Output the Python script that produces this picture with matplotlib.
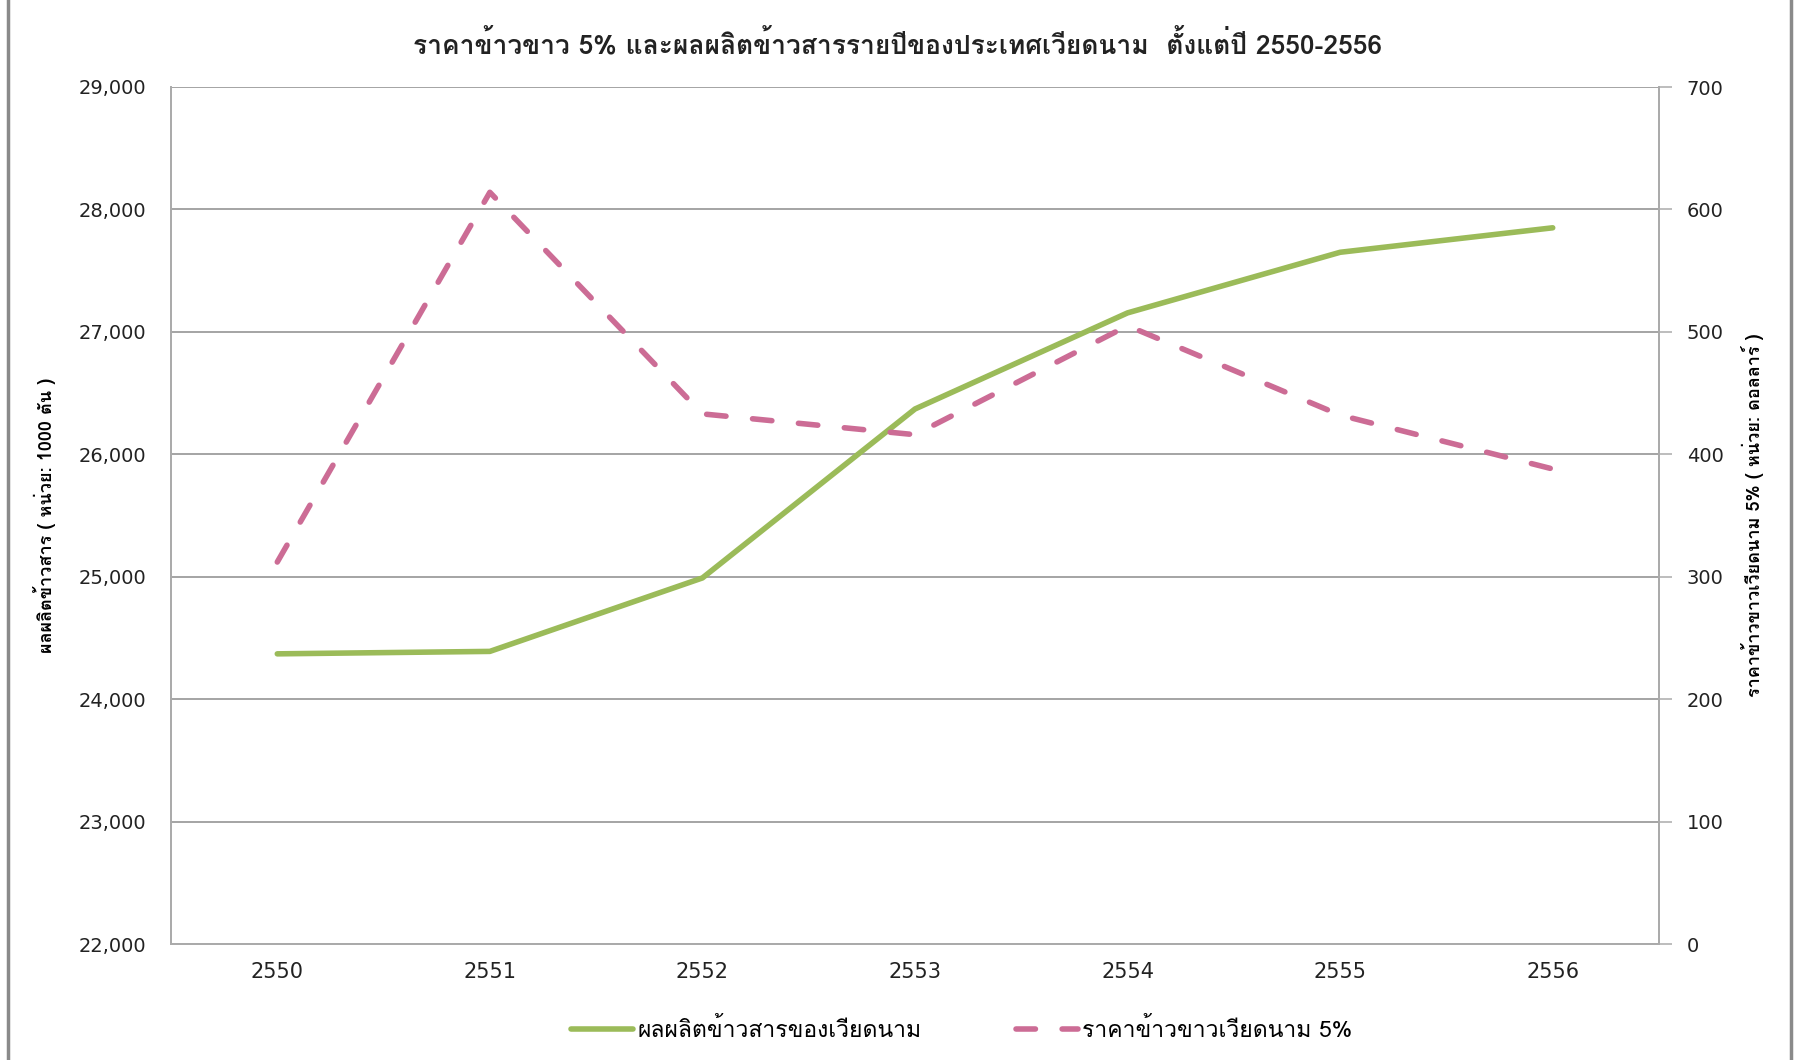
import matplotlib
matplotlib.use("Agg")
import matplotlib.pyplot as plt
from matplotlib import font_manager
from matplotlib.ft2font import FT2Font
from matplotlib.lines import Line2D

# data
years = ["2550", "2551", "2552", "2553", "2554", "2555", "2556"]
production = [24370, 24390, 24990, 26370, 27155, 27650, 27850]   # 1000 tonnes
price = [312, 614, 433, 416, 505, 432, 388]                      # USD

title = "ราคาข้าวขาว 5% และผลผลิตข้าวสารรายปีของประเทศเวียดนาม  ตั้งแต่ปี 2550-2556"
left_label = "ผลผลิตข้าวสาร ( หน่วย: 1000 ตัน )"
right_label = "ราคาข้าวขาวเวียดนาม 5% ( หน่วย: ดอลลาร์ )"
prod_name = "ผลผลิตข้าวสารของเวียดนาม"
price_name = "ราคาข้าวขาวเวียดนาม 5%"

green = "#9BBB59"
pink = "#CC6C95"


def find_thai_font():
    """first installed family that has Thai glyphs"""
    for f in font_manager.fontManager.ttflist:
        try:
            cmap = FT2Font(f.fname).get_charmap()
        except Exception:
            continue
        if 0x0E01 in cmap and 0x0E32 in cmap:
            return f.name
    return None


thai = find_thai_font()
families = [thai, "DejaVu Sans"] if thai else ["DejaVu Sans"]
plt.rcParams["font.family"] = families

fig = plt.figure(figsize=(17.96, 10.60), dpi=100)
ax = fig.add_axes([171 / 1796, 1 - 944 / 1060, (1659 - 171) / 1796, (944 - 87) / 1060])
ax2 = ax.twinx()

x = list(range(len(years)))
ax.plot(x, production, color=green, lw=4, solid_capstyle="round", solid_joinstyle="round", zorder=3)
ln, = ax2.plot(x, price, color=pink, lw=4, dash_capstyle="round", zorder=3)
ln.set_dashes((3.5, 4.8))

ax.set_xlim(-0.5, len(years) - 0.5)
ax.set_ylim(22000, 29000)
ax.set_yticks(range(22000, 29001, 1000))
ax.set_yticklabels([f"{v:,}" for v in range(22000, 29001, 1000)], family="DejaVu Sans")
ax2.set_ylim(0, 700)
ax2.set_yticks(range(0, 701, 100))
ax2.set_yticklabels([str(v) for v in range(0, 701, 100)], family="DejaVu Sans")
ax.set_xticks(x)
ax.set_xticklabels(years, family="DejaVu Sans")

ax.grid(axis="y", color="#8c8c8c", lw=1.1)
ax.set_axisbelow(True)
for a in (ax, ax2):
    for s in a.spines.values():
        s.set_color("#ababab")
        s.set_linewidth(1.3)
ax.spines["top"].set_visible(False)
ax2.spines["top"].set_visible(False)
ax.tick_params(axis="y", length=0, pad=18, labelsize=14, colors="#222222")
ax.tick_params(axis="x", length=0, pad=13, labelsize=15, colors="#222222")
ax2.tick_params(axis="y", length=9, width=1.1, color="#ababab", pad=11, labelsize=14, labelcolor="#222222")

ax.set_ylabel(left_label, fontsize=13, fontweight="bold")
ax2.set_ylabel(right_label, fontsize=13, fontweight="bold", rotation=90)
ax.yaxis.set_label_coords(-0.077, 0.5)
ax2.yaxis.set_label_coords(1.055, 0.5)

fig.text(0.5, 1 - 45 / 1060, title, ha="center", va="center", fontsize=19, fontweight="bold", color="#222222")

handles = [Line2D([], [], color=green, lw=4, solid_capstyle="round"),
           Line2D([], [], color=pink, lw=4, dash_capstyle="round", dashes=(3.5, 4.8))]
fig.legend(handles, [prod_name, price_name], loc="center", bbox_to_anchor=(962 / 1796, 1 - 1030 / 1060),
           ncol=2, frameon=False, fontsize=16.5, handlelength=2.7, columnspacing=4.1, handletextpad=0.2)

# outer chart border
fig.add_artist(Line2D([8 / 1796, 8 / 1796], [0, 1], color="#8a8a8a", lw=2.5))
fig.add_artist(Line2D([1791 / 1796, 1791 / 1796], [0, 1], color="#8a8a8a", lw=2.5))

fig.savefig("out.png", dpi=100)
